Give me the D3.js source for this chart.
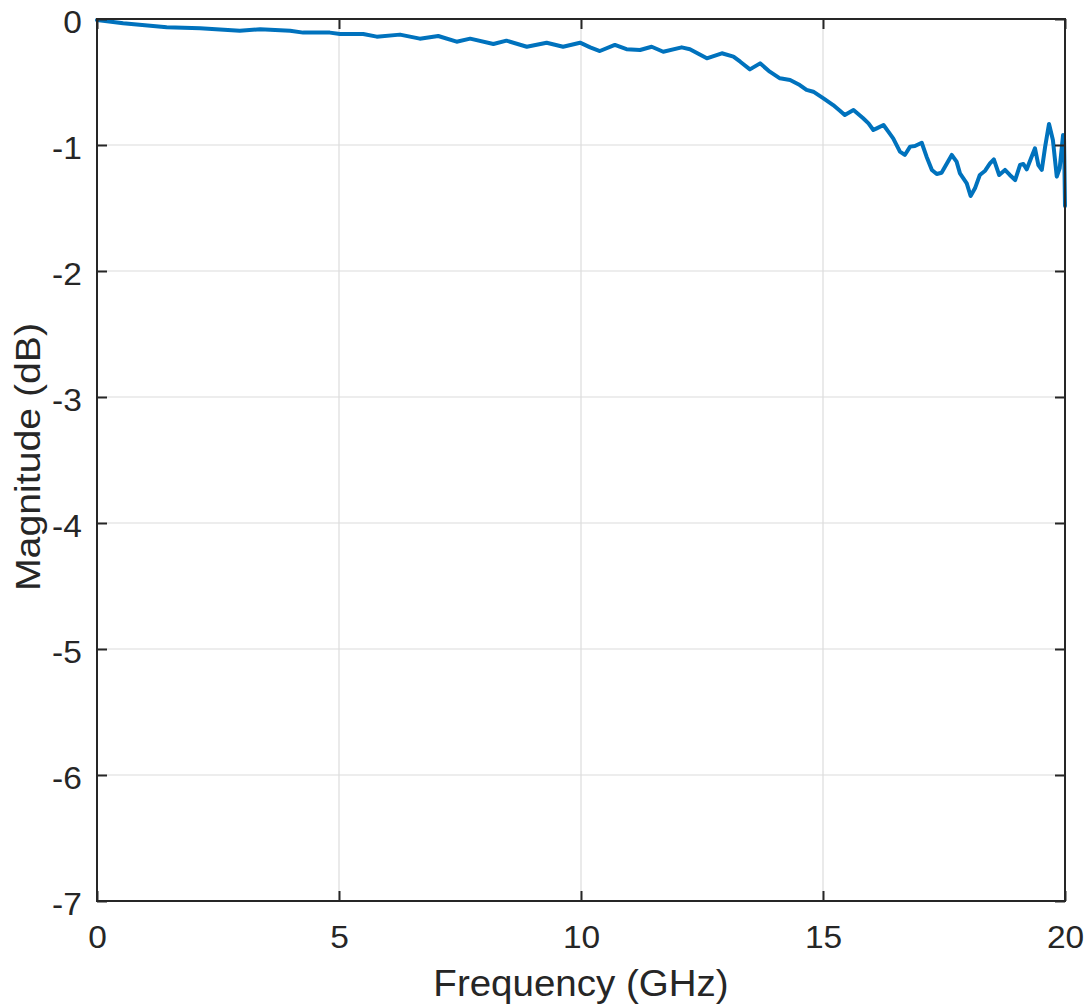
<!DOCTYPE html>
<html>
<head>
<meta charset="utf-8">
<script src="https://cdn.jsdelivr.net/npm/d3@7"></script>
<style>
html,body{margin:0;padding:0;background:#fff;}
svg{display:block;}
</style>
</head>
<body>
<svg id="chart" width="1088" height="1006"></svg>
<script>
const freq = [0, 0.54, 1.44, 2.13, 2.95, 3.37, 3.99, 4.26, 4.81, 5.02, 5.50, 5.78, 6.26, 6.67, 7.05, 7.43, 7.71, 8.19, 8.46, 8.88, 9.29, 9.63, 9.98, 10.19, 10.39, 10.70, 10.94, 11.22, 11.46, 11.70, 12.08, 12.25, 12.60, 12.91, 13.15, 13.29, 13.49, 13.70, 13.90, 14.11, 14.32, 14.52, 14.66, 14.80, 15.01, 15.21, 15.35, 15.45, 15.63, 15.83, 15.94, 16.04, 16.11, 16.25, 16.35, 16.45, 16.59, 16.69, 16.80, 16.90, 17.04, 17.14, 17.25, 17.35, 17.45, 17.66, 17.76, 17.83, 17.97, 18.05, 18.14, 18.24, 18.35, 18.45, 18.53, 18.64, 18.76, 18.86, 18.97, 19.07, 19.14, 19.21, 19.31, 19.38, 19.45, 19.52, 19.59, 19.67, 19.75, 19.83, 19.89, 19.96, 19.98, 20.0];
const magnitude = [-0.008, -0.034, -0.066, -0.074, -0.093, -0.082, -0.093, -0.108, -0.108, -0.119, -0.119, -0.140, -0.124, -0.156, -0.135, -0.180, -0.156, -0.198, -0.172, -0.220, -0.188, -0.220, -0.188, -0.225, -0.254, -0.206, -0.240, -0.246, -0.220, -0.260, -0.225, -0.240, -0.312, -0.272, -0.299, -0.339, -0.400, -0.352, -0.418, -0.471, -0.484, -0.524, -0.563, -0.577, -0.630, -0.683, -0.728, -0.762, -0.722, -0.788, -0.828, -0.881, -0.868, -0.841, -0.894, -0.947, -1.053, -1.079, -1.013, -1.008, -0.982, -1.093, -1.198, -1.230, -1.220, -1.079, -1.132, -1.225, -1.304, -1.405, -1.344, -1.238, -1.204, -1.146, -1.114, -1.238, -1.198, -1.238, -1.278, -1.159, -1.151, -1.193, -1.093, -1.026, -1.159, -1.198, -1.013, -0.833, -0.960, -1.251, -1.185, -0.921, -0.947, -1.484];
const xTicks = [0, 5, 10, 15, 20];
const yTicks = [0, -1, -2, -3, -4, -5, -6, -7];
const xLabel = "Frequency (GHz)";
const yLabel = "Magnitude (dB)";

(function () {
const svg = d3.select("#chart");
const pL = 97, pR = 1065, pT = 19, pB = 901;
const x = d3.scaleLinear().domain([0, 20]).range([pL, pR]);
const y = d3.scaleLinear().domain([-7, 0]).range([pB, pT]);
const font = "'Liberation Sans', Arial, Helvetica, sans-serif";
const textColor = "#262626";
const fmt = d => String(d);

// grid
const g = svg.append("g");
g.selectAll("line.vg").data(xTicks.slice(1, -1)).join("line")
  .attr("class", "vg")
  .attr("x1", d => x(d)).attr("x2", d => x(d))
  .attr("y1", pT).attr("y2", pB)
  .attr("stroke", "#dcdcdc").attr("stroke-width", 1.2);
g.selectAll("line.hg").data(yTicks.slice(1, -1)).join("line")
  .attr("class", "hg")
  .attr("y1", d => y(d)).attr("y2", d => y(d))
  .attr("x1", pL).attr("x2", pR)
  .attr("stroke", "#dcdcdc").attr("stroke-width", 1.2);

// data line
const line = d3.line().x((d, i) => x(freq[i])).y(d => y(d));
svg.append("path").datum(magnitude)
  .attr("d", line)
  .attr("fill", "none")
  .attr("stroke", "#0072BD")
  .attr("stroke-width", 4)
  .attr("stroke-linejoin", "round")
  .attr("stroke-linecap", "round");

// axes (box with inward ticks)
const tickLen = 10;
const axBottom = d3.axisBottom(x).tickValues(xTicks).tickSize(-tickLen).tickPadding(25).tickFormat(fmt);
const axTop = d3.axisTop(x).tickValues(xTicks).tickSize(-tickLen).tickFormat("");
const axLeft = d3.axisLeft(y).tickValues(yTicks).tickSize(-tickLen).tickPadding(14).tickFormat(fmt);
const axRight = d3.axisRight(y).tickValues(yTicks).tickSize(-tickLen).tickFormat("");

function styleAxis(sel) {
  sel.select(".domain").remove();
  sel.selectAll(".tick line").attr("stroke", textColor).attr("stroke-width", 2);
  sel.selectAll(".tick text").attr("fill", textColor)
    .attr("transform", "scale(1.08,1)")
    .style("font-family", font).style("font-size", "31px");
}
svg.append("g").attr("transform", `translate(0,${pB})`).call(axBottom).call(styleAxis);
svg.append("g").attr("transform", `translate(0,${pT})`).call(axTop).call(styleAxis);
const gl = svg.append("g").attr("transform", `translate(${pL},0)`).call(axLeft).call(styleAxis);
gl.selectAll(".tick text").attr("dy", "0.42em");
svg.append("g").attr("transform", `translate(${pR},0)`).call(axRight).call(styleAxis);
svg.append("rect").attr("x", pL).attr("y", pT).attr("width", pR - pL).attr("height", pB - pT)
  .attr("fill", "none").attr("stroke", textColor).attr("stroke-width", 2);

// labels
svg.append("text").attr("transform", `translate(${(pL + pR) / 2},996) scale(1.07,1)`)
  .attr("text-anchor", "middle").attr("fill", textColor)
  .style("font-family", font).style("font-size", "36px").text(xLabel);
svg.append("text").attr("transform", `translate(40,${(pT + pB) / 2 - 3}) rotate(-90) scale(1.09,1)`)
  .attr("text-anchor", "middle").attr("fill", textColor)
  .style("font-family", font).style("font-size", "36px").text(yLabel);
})();
</script>
</body>
</html>
